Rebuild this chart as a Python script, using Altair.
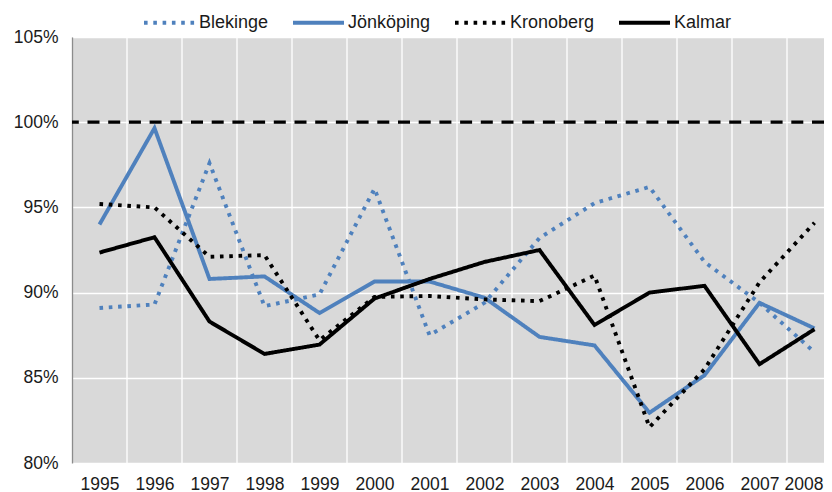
import altair as alt
import pandas as pd

years = list(range(1995, 2009))
names = ["Blekinge", "Jönköping", "Kronoberg", "Kalmar"]
blekinge = [89.1, 89.3, 97.6, 89.2, 89.9, 96.1, 87.5, 89.4, 93.2, 95.25, 96.2, 91.8, 89.4, 86.5]
jonkoping = [94.0, 99.65, 90.8, 90.95, 88.8, 90.65, 90.65, 89.7, 87.4, 86.9, 82.95, 85.15, 89.4, 87.9]
kronoberg = [95.2, 95.0, 92.1, 92.2, 87.2, 89.75, 89.8, 89.6, 89.5, 91.0, 82.1, 85.5, 90.6, 94.1]
kalmar = [92.35, 93.25, 88.3, 86.4, 86.95, 89.65, 90.8, 91.8, 92.5, 88.1, 90.0, 90.4, 85.8, 87.85]
y_ticks = [80, 85, 90, 95, 100, 105]
reference_level = [100]

colors = ["#4F81BD", "#4F81BD", "#000000", "#000000"]
dashes = [[3.6, 5.7], [1, 0], [3.6, 5.7], [1, 0]]

rows = []
for name, vals in zip(names, [blekinge, jonkoping, kronoberg, kalmar]):
    for yr, v in zip(years, vals):
        rows.append({"series": name, "year": yr, "value": v})
df = pd.DataFrame(rows)
yrs = pd.DataFrame({"year": years[:-1]})
ref = pd.DataFrame({"ref": reference_level})

FONT = "Liberation Sans"
PLOT_W = 752
BAND = 55.0
x_scale = alt.Scale(domain=[years[0] - 0.5, years[0] - 0.5 + PLOT_W / BAND], nice=False, zero=False)
y_scale = alt.Scale(domain=[y_ticks[0], y_ticks[-1]], nice=False, zero=False)
x_axis = alt.Axis(values=years, format="d", ticks=False, domain=False, grid=False,
                  labelPadding=12, labelFontSize=17.5, labelFont=FONT, labelColor="#1a1a1a",
                  labelFlush=False, labelOverlap=False, labelBound=False,
                  labelOffset={"condition": {"test": f"datum.value === {years[-1]}", "value": -11},
                               "value": 0})
y_axis = alt.Axis(values=y_ticks, labelExpr="datum.value + '%'", ticks=False, tickSize=0,
                  domain=True, domainColor="#8c8c8c", domainWidth=1.3,
                  grid=True, gridColor="#ffffff", gridWidth=1.3,
                  labelPadding=14, labelFontSize=17.5, labelFont=FONT, labelColor="#1a1a1a")

legend = alt.Legend(title=None, orient="none", legendX=70, legendY=-42,
                    direction="horizontal", symbolType="stroke", symbolSize=2601,
                    symbolStrokeWidth=4, labelFont=FONT, labelFontSize=18,
                    labelColor="#1a1a1a", labelOffset=2, columnPadding=16, padding=0)

vgrid = alt.Chart(yrs).transform_calculate(b="datum.year + 0.5").mark_rule(
    color="#ffffff", strokeWidth=1.3
).encode(x=alt.X("b:Q", scale=x_scale, axis=x_axis, title=None))

dash_line = alt.Chart(ref).mark_rule(
    color="#000000", strokeWidth=3.3, strokeDash=[12, 8.7]
).encode(y=alt.Y("ref:Q", scale=y_scale, axis=y_axis, title=None))

lines = alt.Chart(df).mark_line(strokeWidth=3.9).encode(
    x=alt.X("year:Q", scale=x_scale, axis=x_axis, title=None),
    y=alt.Y("value:Q", scale=y_scale, axis=y_axis, title=None),
    color=alt.Color("series:N", scale=alt.Scale(domain=names, range=colors), legend=legend),
    strokeDash=alt.StrokeDash("series:N", scale=alt.Scale(domain=names, range=dashes), legend=legend),
    order=alt.Order("year:Q"),
)

chart = alt.layer(vgrid, dash_line, lines).properties(
    width=PLOT_W, height=426,
    autosize=alt.AutoSizeParams(type="none"),
    padding={"left": 64, "top": 29, "right": 0, "bottom": 29},
    background="#ffffff",
).configure_view(fill="#d9d9d9", stroke="transparent", strokeWidth=0)

chart.save("out.html", embed_options={"renderer": "svg", "actions": False})
